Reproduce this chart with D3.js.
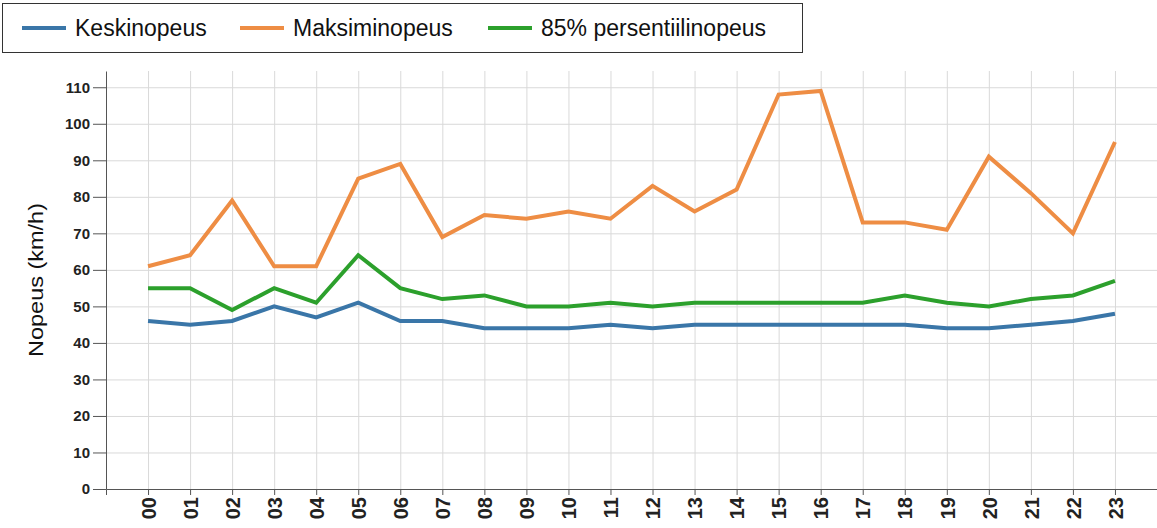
<!DOCTYPE html>
<html>
<head>
<meta charset="utf-8">
<script src="https://cdn.jsdelivr.net/npm/d3@7"></script>
<style>
  html, body { margin: 0; padding: 0; background: #fff; }
  svg { display: block; font-family: "Liberation Sans", Arial, sans-serif; }
  .grid line { stroke: #d9d9d9; stroke-width: 1; }
  .grid path { display: none; }
  .axis path, .axis line { stroke: #555; }
  .axis text { font-weight: bold; fill: #222; }
</style>
</head>
<body>
<svg id="chart" width="1157" height="528"></svg>
<script>
// Hourly speeds (km/h) per hour of day
const hours = ["00","01","02","03","04","05","06","07","08","09","10","11",
               "12","13","14","15","16","17","18","19","20","21","22","23"];
const keskinopeus = [46,45,46,50,47,51,46,46,44,44,44,45,44,45,45,45,45,45,45,44,44,45,46,48];
const maksiminopeus = [61,64,79,61,61,85,89,69,75,74,76,74,83,76,82,108,109,73,73,71,91,81,70,95];
const persentiili85 = [55,55,49,55,51,64,55,52,53,50,50,51,50,51,51,51,51,51,53,51,50,52,53,57];
const yTicks = [0,10,20,30,40,50,60,70,80,90,100,110];

const seriesNames = ["Keskinopeus", "Maksiminopeus", "85% persentiilinopeus"];
const seriesColors = ["#3a76a8", "#ee8d44", "#2ca02c"];
const seriesValues = [keskinopeus, maksiminopeus, persentiili85];

const svg = d3.select("#chart");
const margin = { left: 106, right: 0, top: 71, bottom: 39 };
const width = 1157, height = 528;

const yMax = d3.max(maksiminopeus) * 1.05;

const x = d3.scaleLinear()
  .domain([-1, hours.length])
  .range([margin.left, width - margin.right]);
const y = d3.scaleLinear()
  .domain([0, yMax])
  .range([height - margin.bottom, margin.top]);

const idx = hours.map((_, i) => i);

// gridlines
svg.append("g").attr("class", "grid")
  .attr("transform", `translate(0,${height - margin.bottom})`)
  .call(d3.axisBottom(x).tickValues(idx).tickSize(-(height - margin.bottom - margin.top)).tickFormat(""));
svg.append("g").attr("class", "grid")
  .attr("transform", `translate(${margin.left},0)`)
  .call(d3.axisLeft(y).tickValues(yTicks).tickSize(-(width - margin.left - margin.right)).tickFormat(""));

// axes
const xAxis = svg.append("g").attr("class", "axis")
  .attr("transform", `translate(0,${height - margin.bottom})`)
  .call(d3.axisBottom(x).tickValues(idx).tickFormat(i => hours[i]).tickSize(6).tickSizeOuter(6));
xAxis.selectAll("text")
  .style("font-size", "20px")
  .attr("transform", "rotate(-90)")
  .attr("text-anchor", "end")
  .attr("dy", "0.36em")
  .attr("x", -8)
  .attr("y", 0);

const yAxis = svg.append("g").attr("class", "axis")
  .attr("transform", `translate(${margin.left},0)`)
  .call(d3.axisLeft(y).tickValues(yTicks).tickSize(13).tickSizeOuter(0));
yAxis.selectAll("text").style("font-size", "15px").attr("x", -16);

svg.append("text")
  .attr("transform", `translate(36,${(margin.top + height - margin.bottom) / 2}) rotate(-90)`)
  .attr("text-anchor", "middle")
  .attr("dy", "0.35em")
  .style("font-size", "21px")
  .attr("textLength", 154)
  .attr("lengthAdjust", "spacingAndGlyphs")
  .attr("fill", "#111")
  .text("Nopeus (km/h)");

// lines
const line = d3.line().x((d, i) => x(i)).y(d => y(d));
seriesValues.forEach((vals, k) => {
  svg.append("path")
    .datum(vals)
    .attr("fill", "none")
    .attr("stroke", seriesColors[k])
    .attr("stroke-width", 4)
    .attr("stroke-linejoin", "miter")
    .attr("d", line);
});

// legend
const legend = svg.append("g");
legend.append("rect")
  .attr("x", 2.5).attr("y", 3.5).attr("width", 800).attr("height", 49)
  .attr("fill", "#fff").attr("stroke", "#333").attr("stroke-width", 1);
const legendX = [22, 240, 488];
seriesNames.forEach((name, k) => {
  const g = legend.append("g").attr("transform", `translate(${legendX[k]},28)`);
  g.append("line").attr("x1", 0).attr("x2", 44).attr("y1", 0).attr("y2", 0)
    .attr("stroke", seriesColors[k]).attr("stroke-width", 4);
  g.append("text").attr("x", 53).attr("y", 0).attr("dy", "0.35em")
    .style("font-size", "23px").attr("fill", "#111").text(name);
});
</script>
</body>
</html>
